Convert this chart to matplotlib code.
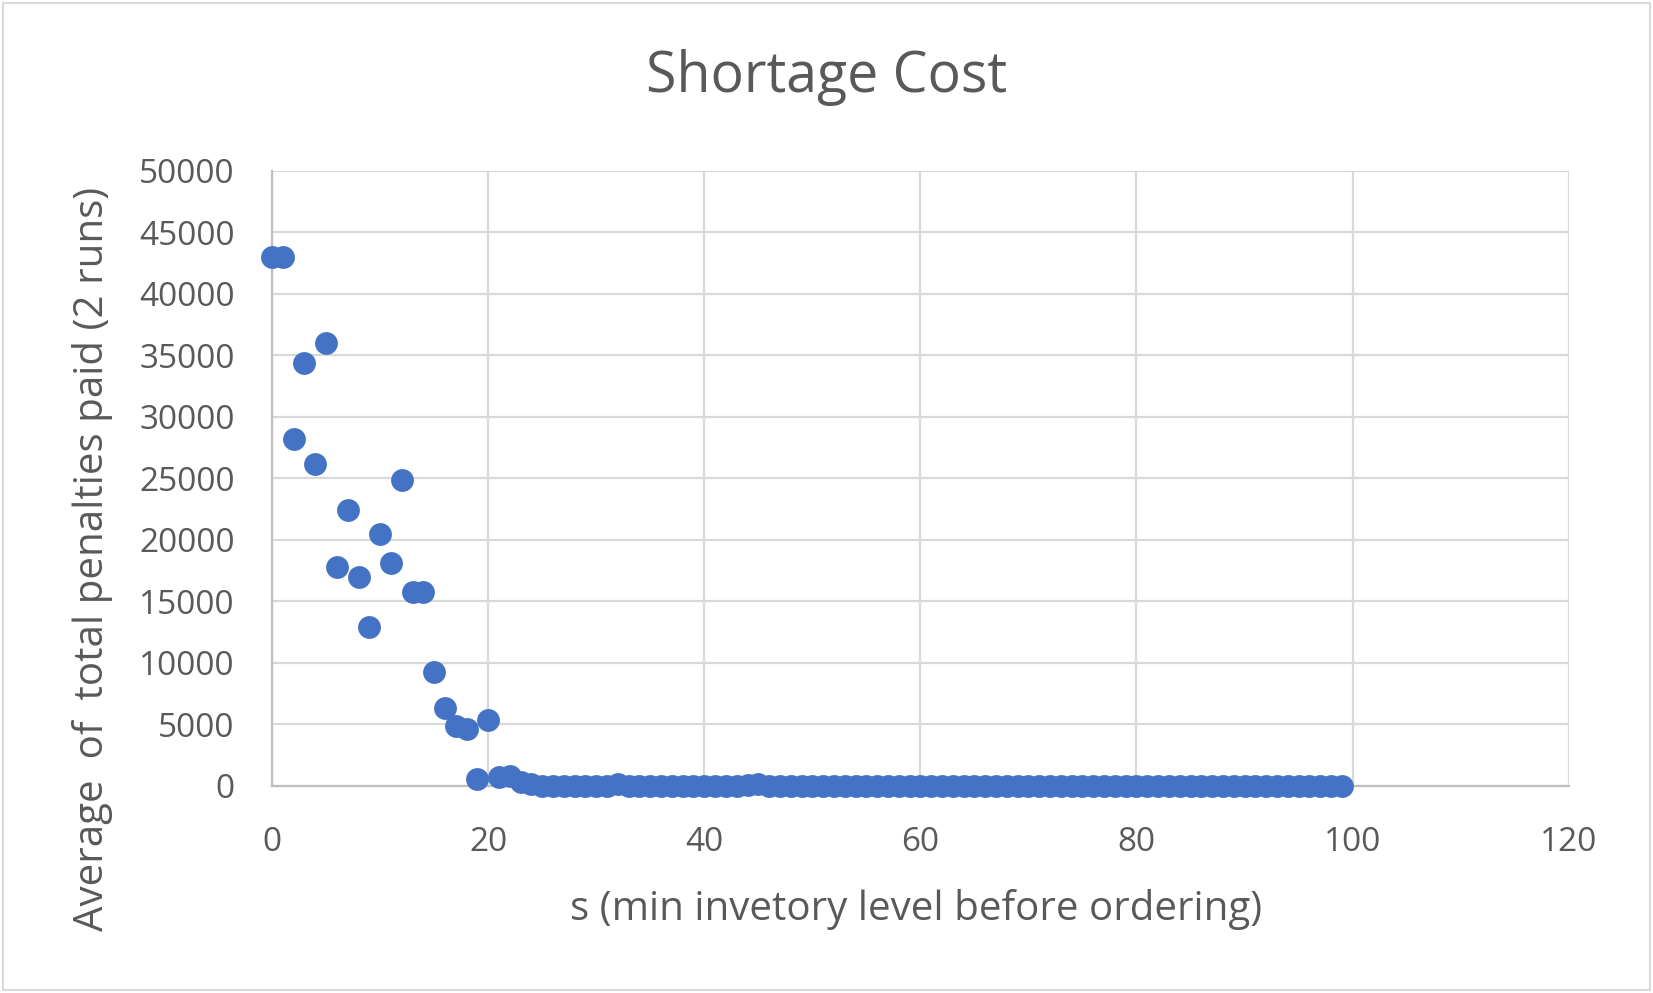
import matplotlib
matplotlib.use("Agg")
import matplotlib.pyplot as plt
from matplotlib.patches import Rectangle

# s values 0..99 and average shortage penalty (2 runs)
s_vals = list(range(100))
penalty_head = [43000, 43000, 28200, 34400, 26200, 36000, 17800, 22400, 17000, 12900,
                20500, 18100, 24900, 15800, 15800, 9300, 6300, 4900, 4600, 550,
                5400, 700, 850, 300, 120]
penalty_tail = [0] * 75
penalty_tail[32 - 25] = 150
penalty_tail[44 - 25] = 100
penalty_tail[45 - 25] = 150
penalty = penalty_head + penalty_tail

x_ticks = [0, 20, 40, 60, 80, 100, 120]
y_ticks = list(range(0, 50001, 5000))

TXT = "#595959"
GRID = "#d9d9d9"
BLUE = "#4472C4"

plt.rcParams["font.family"] = ["Open Sans", "DejaVu Sans"]

fig = plt.figure(figsize=(16.53, 9.93), dpi=100)
ax = fig.add_axes([0.1646, 0.2085, 0.949 - 0.1646, 0.8278 - 0.2085])

ax.scatter(s_vals, penalty, s=270, color=BLUE, zorder=3, clip_on=False, linewidths=0)

ax.set_xlim(0, 120)
ax.set_ylim(0, 50000)
ax.set_xticks(x_ticks)
ax.set_yticks(y_ticks)
ax.grid(True, color=GRID, linewidth=1.6, zorder=0)
ax.set_axisbelow(True)
for side in ["top", "right"]:
    ax.spines[side].set_visible(False)
for side in ["left", "bottom"]:
    ax.spines[side].set_color("#bfbfbf")
    ax.spines[side].set_linewidth(1.6)
ax.tick_params(length=0, labelsize=24, colors=TXT)
ax.tick_params(axis="y", pad=27)
ax.tick_params(axis="x", pad=29)

fig.text(0.5, 0.922, "Shortage Cost", ha="center", va="center", fontsize=40, color=TXT)
fig.text(0.554, 0.084, "s (min invetory level before ordering)", ha="center", va="center",
         fontsize=29, color=TXT)
fig.text(0.056, 0.437, "Average  of  total penalties paid (2 runs)", ha="center", va="center",
         rotation=90, fontsize=29, color=TXT)

fig.patches.append(Rectangle((0.002, 0.003), 0.996, 0.994, transform=fig.transFigure,
                             fill=False, edgecolor=GRID, linewidth=1.5))

fig.savefig("out.png", dpi=100, facecolor="white")
